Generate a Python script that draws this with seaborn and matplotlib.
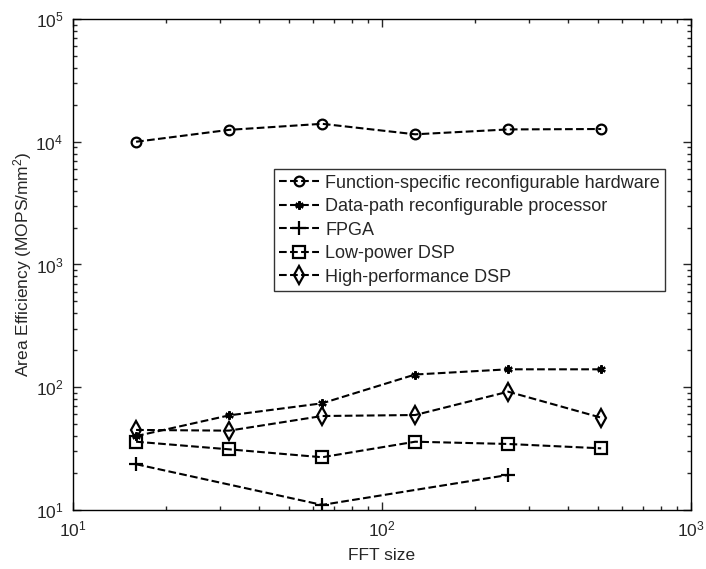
import numpy as np
import pandas as pd
import seaborn as sns
import matplotlib
matplotlib.use('Agg')
import matplotlib.pyplot as plt

#======Data======
fft_sizes = [16, 32, 64, 128, 256, 512]
func_specific = [10000, 12500, 14000, 11500, 12600, 12700]
data_path = [40, 59, 74, 127, 140, 140]
fpga_sizes = [16, 64, 256]
fpga = [23.6, 11, 19.3]
low_power_dsp = [36, 31.2, 26.9, 36, 34.5, 31.8]
high_perf_dsp = [44.9, 44.3, 58.3, 59.4, 92, 56.5]

labels = ['Function-specific reconfigurable hardware',
          'Data-path reconfigurable processor',
          'FPGA',
          'Low-power DSP',
          'High-performance DSP']

#======Style======
sns.set_style('white')
plt.rcParams['font.family'] = ['Liberation Sans', 'DejaVu Sans']
plt.rcParams['mathtext.default'] = 'regular'

fig = plt.figure(figsize=(7.06, 5.69), dpi=100)
ax = fig.add_axes([0.1034, 0.1037, 0.8754, 0.8629])

# (x, y, marker, size) per series
series = [
    (fft_sizes, func_specific, 'o', 7),
    (fft_sizes, data_path, (6, 2, 0), 6),
    (fpga_sizes, fpga, '+', 10),
    (fft_sizes, low_power_dsp, 's', 8),
    (fft_sizes, high_perf_dsp, 'd', 9),
]
for (xs, ys, mk, ms), lab in zip(series, labels):
    sns.lineplot(x=xs, y=ys, ax=ax, color='black', linestyle='--', linewidth=1.5,
                 marker=mk, markersize=ms, markerfacecolor='none',
                 markeredgecolor='black', markeredgewidth=1.6, label=lab)

ax.set_xscale('log')
ax.set_yscale('log')
ax.set_xlim(10, 1000)
ax.set_ylim(10, 1e5)

ax.tick_params(which='both', direction='in', bottom=True, left=True,
               top=True, right=True, labelsize=12.5)
ax.tick_params(which='major', length=6, width=1, pad=7)
ax.tick_params(which='minor', length=3, width=1)
for s in ax.spines.values():
    s.set_color('black')
    s.set_linewidth(1)

ax.set_xlabel('FFT size', fontsize=12.5, labelpad=6)
ax.set_ylabel('Area Efficiency (MOPS/mm$^2$)', fontsize=12.5, labelpad=1)

leg = ax.legend(loc='upper left', bbox_to_anchor=(0.325, 0.694), borderaxespad=0,
                fontsize=13, frameon=True, fancybox=False, edgecolor='black',
                handlelength=2.2, handletextpad=0.35, labelspacing=0.36,
                borderpad=0.3)
leg.get_frame().set_linewidth(1)

fig.savefig('out.png', dpi=100)
